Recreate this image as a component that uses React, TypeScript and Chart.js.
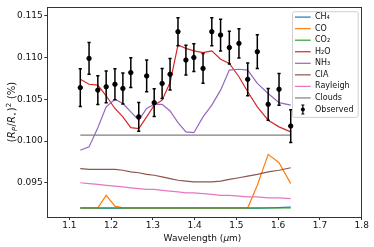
import { useEffect, useRef } from 'react';
import { Chart, registerables } from 'chart.js';

Chart.register(...registerables);

// ---- data ----
const wavelengths = [1.126, 1.147, 1.168, 1.188, 1.209, 1.228, 1.247, 1.266, 1.285, 1.303, 1.322, 1.341, 1.360, 1.379, 1.398, 1.420, 1.441, 1.462, 1.483, 1.506, 1.527, 1.550, 1.576, 1.602, 1.630];
const observed = [0.1064, 0.1099, 0.1061, 0.1065, 0.1068, 0.1063, 0.1082, 0.1029, 0.1078, 0.1046, 0.1069, 0.1080, 0.1131, 0.1097, 0.1100, 0.1087, 0.1131, 0.1127, 0.1112, 0.1117, 0.1074, 0.1107, 0.1044, 0.1062, 0.1018];
const observedErr = [0.00226, 0.0019, 0.00173, 0.0019, 0.00185, 0.00186, 0.00179, 0.00173, 0.0019, 0.00167, 0.00179, 0.0019, 0.00167, 0.00179, 0.00167, 0.00179, 0.00167, 0.0019, 0.00196, 0.00175, 0.00196, 0.00202, 0.0019, 0.0019, 0.00196];
const ch4 = [0.09195, 0.09195, 0.09195, 0.09195, 0.09195, 0.09195, 0.09195, 0.09195, 0.09195, 0.09195, 0.09195, 0.09195, 0.09195, 0.09195, 0.09195, 0.09195, 0.09195, 0.09195, 0.09195, 0.09195, 0.09195, 0.09195, 0.09198, 0.09203, 0.0921];
const co = [0.0920, 0.0920, 0.0920, 0.0935, 0.0922, 0.0920, 0.0920, 0.0920, 0.0920, 0.0920, 0.0920, 0.0920, 0.0920, 0.0920, 0.0920, 0.0920, 0.0920, 0.0920, 0.0920, 0.0920, 0.0920, 0.0947, 0.0984, 0.0974, 0.0949];
const co2 = [0.0920, 0.0920, 0.0920, 0.0920, 0.0920, 0.0920, 0.0920, 0.0920, 0.0920, 0.0920, 0.0920, 0.0920, 0.0920, 0.0920, 0.0920, 0.0920, 0.0920, 0.0920, 0.0920, 0.0920, 0.0920, 0.0920, 0.0920, 0.0920, 0.0920];
const h2o = [0.1074, 0.1068, 0.1067, 0.1054, 0.1039, 0.1029, 0.1016, 0.1015, 0.1029, 0.1043, 0.1049, 0.1070, 0.1115, 0.1111, 0.1108, 0.1106, 0.1108, 0.1098, 0.1093, 0.1077, 0.1059, 0.1041, 0.1025, 0.1017, 0.1011];
const nh3 = [0.0989, 0.0993, 0.1016, 0.1041, 0.1050, 0.1045, 0.1035, 0.1025, 0.1039, 0.1044, 0.1044, 0.1036, 0.1022, 0.1011, 0.1010, 0.1029, 0.1043, 0.1061, 0.1085, 0.1086, 0.1085, 0.1069, 0.1057, 0.1046, 0.1043];
const cia = [0.0967, 0.0966, 0.0966, 0.0966, 0.0966, 0.0965, 0.0963, 0.0962, 0.0960, 0.0959, 0.0957, 0.0955, 0.0953, 0.0952, 0.0951, 0.0951, 0.0951, 0.0952, 0.0954, 0.0956, 0.0958, 0.0960, 0.0963, 0.0965, 0.0968];
const rayleigh = [0.0950, 0.0949, 0.0948, 0.0947, 0.0946, 0.0945, 0.0944, 0.0943, 0.0942, 0.0942, 0.0941, 0.0940, 0.0939, 0.0938, 0.0938, 0.0937, 0.0936, 0.0935, 0.0935, 0.0934, 0.0933, 0.0933, 0.0932, 0.0932, 0.0931];
const clouds = [0.1007, 0.1007, 0.1007, 0.1007, 0.1007, 0.1007, 0.1007, 0.1007, 0.1007, 0.1007, 0.1007, 0.1007, 0.1007, 0.1007, 0.1007, 0.1007, 0.1007, 0.1007, 0.1007, 0.1007, 0.1007, 0.1007, 0.1007, 0.1007, 0.1007];

const seriesNames = ['CH₄', 'CO', 'CO₂', 'H₂O', 'NH₃', 'CIA', 'Rayleigh', 'Clouds'];
const seriesValues = [ch4, co, co2, h2o, nh3, cia, rayleigh, clouds];
const seriesColors = ['#1f77b4', '#ff7f0e', '#2ca02c', '#d62728', '#9467bd', '#8c564b', '#e377c2', '#7f7f7f'];
const observedLabel = 'Observed';

const xTickValues = [1.1, 1.2, 1.3, 1.4, 1.5, 1.6, 1.7, 1.8];
const yTickValues = [0.095, 0.100, 0.105, 0.110, 0.115];
const X_MIN = 1.047;
const X_MAX = 1.8;
const Y_MIN = 0.0909;
const Y_MAX = 0.11607;

const FONT = '"DejaVu Sans", sans-serif';
const SPINE = '#333';

type Part = { t: string; s?: 'sub' | 'sup'; i?: boolean; gap?: number };

function drawMixed(ctx: CanvasRenderingContext2D, parts: Part[], size: number, cx: number, cy: number) {
  const small = size * 0.7;
  const widths = parts.map((p) => {
    ctx.font = `${p.i ? 'italic ' : ''}${p.s ? small : size}px ${FONT}`;
    return ctx.measureText(p.t).width + (p.gap || 0);
  });
  const total = widths.reduce((a, b) => a + b, 0);
  let x = cx - total / 2;
  ctx.textAlign = 'left';
  ctx.textBaseline = 'alphabetic';
  parts.forEach((p, k) => {
    ctx.font = `${p.i ? 'italic ' : ''}${p.s ? small : size}px ${FONT}`;
    const dy = p.s === 'sub' ? size * 0.22 : p.s === 'sup' ? -size * 0.42 : 0;
    ctx.fillText(p.t, x, cy + size * 0.36 + dy);
    x += widths[k];
  });
}

const decorPlugin = {
  id: 'decor',
  afterDatasetsDraw(chart: any) {
    const { ctx, scales } = chart;
    const xs = scales.x;
    const ys = scales.y;
    ctx.save();
    ctx.strokeStyle = '#000';
    ctx.lineWidth = 1.5;
    wavelengths.forEach((w, i) => {
      const px = xs.getPixelForValue(w);
      const top = ys.getPixelForValue(observed[i] + observedErr[i]);
      const bot = ys.getPixelForValue(observed[i] - observedErr[i]);
      ctx.beginPath();
      ctx.moveTo(px, top);
      ctx.lineTo(px, bot);
      ctx.moveTo(px - 1.6, top);
      ctx.lineTo(px + 1.6, top);
      ctx.moveTo(px - 1.6, bot);
      ctx.lineTo(px + 1.6, bot);
      ctx.stroke();
    });
    ctx.restore();
  },
  afterDraw(chart: any) {
    const { ctx, chartArea: ca } = chart;
    ctx.save();
    // spines
    ctx.strokeStyle = SPINE;
    ctx.lineWidth = 1;
    ctx.strokeRect(Math.round(ca.left) + 0.5, Math.round(ca.top) + 0.5, Math.round(ca.right - ca.left), Math.round(ca.bottom - ca.top));

    // legend
    const bx = ca.right - 69.7;
    const by = ca.top + 4.3;
    const bw = 65.7;
    const bh = 105.7;
    ctx.beginPath();
    if ((ctx as any).roundRect) (ctx as any).roundRect(bx + 0.5, by + 0.5, bw, bh, 2);
    else ctx.rect(bx + 0.5, by + 0.5, bw, bh);
    ctx.fillStyle = 'rgba(255,255,255,0.8)';
    ctx.fill();
    ctx.strokeStyle = '#d0d0d0';
    ctx.lineWidth = 1;
    ctx.stroke();

    const rowStep = 11.55;
    const y0 = by + 5.9;
    ctx.font = `8px ${FONT}`;
    ctx.textAlign = 'left';
    ctx.textBaseline = 'middle';
    seriesNames.forEach((name, i) => {
      const yy = y0 + i * rowStep;
      ctx.strokeStyle = seriesColors[i];
      ctx.lineWidth = 1.2;
      ctx.beginPath();
      ctx.moveTo(bx + 3, yy);
      ctx.lineTo(bx + 18.7, yy);
      ctx.stroke();
      ctx.fillStyle = '#111';
      ctx.fillText(name, bx + 23, yy);
    });
    const oy = y0 + seriesNames.length * rowStep;
    const ox = bx + 10.85;
    ctx.strokeStyle = '#000';
    ctx.lineWidth = 1.2;
    ctx.beginPath();
    ctx.moveTo(ox, oy - 4.5);
    ctx.lineTo(ox, oy + 4.5);
    ctx.moveTo(ox - 1.5, oy - 4.5);
    ctx.lineTo(ox + 1.5, oy - 4.5);
    ctx.moveTo(ox - 1.5, oy + 4.5);
    ctx.lineTo(ox + 1.5, oy + 4.5);
    ctx.stroke();
    ctx.fillStyle = '#000';
    ctx.beginPath();
    ctx.arc(ox, oy, 2, 0, Math.PI * 2);
    ctx.fill();
    ctx.fillStyle = '#111';
    ctx.fillText(observedLabel, bx + 23, oy);

    // axis titles
    ctx.fillStyle = '#111';
    drawMixed(ctx, [{ t: 'Wavelength (' }, { t: 'μ', i: true }, { t: 'm)' }], 9, (ca.left + ca.right) / 2 - 2, ca.bottom + 20.5);

    ctx.save();
    ctx.translate(11.5, (ca.top + ca.bottom) / 2);
    ctx.rotate(-Math.PI / 2);
    drawMixed(
      ctx,
      [
        { t: '(' },
        { t: 'R', i: true },
        { t: 'P', s: 'sub', i: true, gap: 0.6 },
        { t: '/' },
        { t: 'R', i: true },
        { t: '⋆', s: 'sub', gap: 0.6 },
        { t: ')' },
        { t: '2', s: 'sup', gap: 0.6 },
        { t: ' (%)' },
      ],
      10,
      0,
      0,
    );
    ctx.restore();
    ctx.restore();
  },
};

export default function App() {
  const ref = useRef<HTMLCanvasElement>(null);

  useEffect(() => {
    document.body.style.margin = '0';
    const datasets: any[] = seriesNames.map((name, i) => ({
      label: name,
      data: wavelengths.map((w, k) => ({ x: w, y: seriesValues[i][k] })),
      borderColor: seriesColors[i],
      backgroundColor: seriesColors[i],
      borderWidth: 1.2,
      pointRadius: 0,
      tension: 0,
      fill: false,
      order: 20 - i,
    }));
    datasets.push({
      label: observedLabel,
      data: wavelengths.map((w, k) => ({ x: w, y: observed[k] })),
      showLine: false,
      pointRadius: 2.2,
      pointBackgroundColor: '#000',
      pointBorderColor: '#000',
      borderColor: '#000',
      backgroundColor: '#000',
      order: 1,
    });

    const chart = new Chart(ref.current as HTMLCanvasElement, {
      type: 'line',
      data: { datasets },
      plugins: [decorPlugin],
      options: {
        animation: false,
        responsive: false,
        devicePixelRatio: 1,
        events: [],
        layout: { padding: { left: 0, right: 12.3, top: 5, bottom: 0 } },
        plugins: { legend: { display: false }, tooltip: { enabled: false } },
        scales: {
          x: {
            type: 'linear',
            min: X_MIN,
            max: X_MAX,
            afterFit: (s: any) => {
              s.height = 30;
            },
            afterBuildTicks: (s: any) => {
              s.ticks = xTickValues.map((v) => ({ value: v }));
            },
            grid: { drawOnChartArea: false, drawTicks: true, tickLength: 3, tickColor: SPINE, tickWidth: 1 },
            border: { display: false },
            ticks: {
              font: { family: FONT, size: 9 },
              color: '#111',
              padding: 0,
              maxRotation: 0,
              autoSkip: false,
              callback: (v: any) => Number(v).toFixed(1),
            },
          },
          y: {
            type: 'linear',
            min: Y_MIN,
            max: Y_MAX,
            afterFit: (s: any) => {
              s.width = 47.3;
            },
            afterBuildTicks: (s: any) => {
              s.ticks = yTickValues.map((v) => ({ value: v }));
            },
            grid: { drawOnChartArea: false, drawTicks: true, tickLength: 3, tickColor: SPINE, tickWidth: 1 },
            border: { display: false },
            ticks: {
              font: { family: FONT, size: 9 },
              color: '#111',
              padding: 1.5,
              autoSkip: false,
              callback: (v: any) => Number(v).toFixed(3),
            },
          },
        },
      } as any,
    });
    return () => chart.destroy();
  }, []);

  return (
    <div style={{ width: 374, height: 247 }}>
      <canvas ref={ref} width={374} height={247} style={{ display: 'block' }} />
    </div>
  );
}
